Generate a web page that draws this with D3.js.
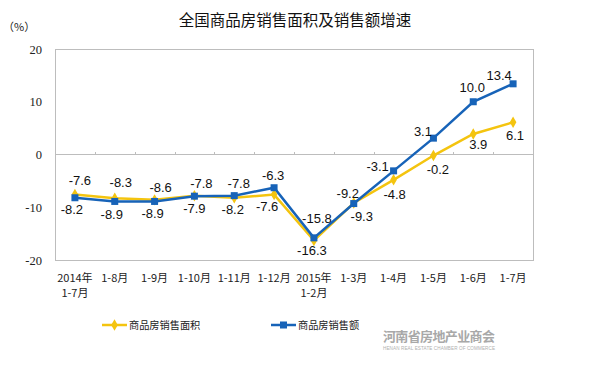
<!DOCTYPE html>
<html><head><meta charset="utf-8">
<script src="https://cdn.jsdelivr.net/npm/d3@7"></script>
<style>body{margin:0;background:#fff}svg{display:block}</style>
</head><body>
<svg id="c" width="606" height="376"></svg>
<script>
const categories = [["2014年","1-7月"],["1-8月"],["1-9月"],["1-10月"],["1-11月"],["1-12月"],["2015年","1-2月"],["1-3月"],["1-4月"],["1-5月"],["1-6月"],["1-7月"]];
const areaValues = [-7.6,-8.3,-8.6,-7.8,-8.2,-7.6,-16.3,-9.2,-4.8,-0.2,3.9,6.1];
const salesValues = [-8.2,-8.9,-8.9,-7.9,-7.8,-6.3,-15.8,-9.3,-3.1,3.1,10.0,13.4];
const yTicks = [20,10,0,-10,-20];
const seriesNames = ["商品房销售面积","商品房销售额"];
const titleText = "全国商品房销售面积及销售额增速";
const unitText = "（%）";
// label placement (dx, dy) relative to point
const areaLabelOff = [[5,-14],[6,-16],[6,-13],[7,-12],[-1.5,12],[-7,12],[-2,10],[-6,-10],[1,14],[4.5,14],[5,10],[2,12.5]];
const salesLabelOff = [[-3,12],[-3,12.4],[-2,11.4],[0,12],[4.5,-12],[-1,-12],[3,-20],[8,13],[-16,-5],[-10.5,-7],[-1,-14],[-14,-8]];

const hy = f => v => f(v).replace("\u2212","-");
const svg = d3.select("#c");
const L=55, R=533, T=49, B=260;
const x = d3.scaleBand().domain(d3.range(categories.length)).range([L,R]);
const y = d3.scaleLinear().domain([-20,20]).range([B,T]);
const cx = i => x(i)+x.bandwidth()/2;
const yellow="#f4c40f", blue="#1763b8";

svg.append("text").attr("x",295).attr("y",26).attr("text-anchor","middle")
  .attr("font-family","Noto Sans CJK SC").attr("font-size",15.5).attr("fill","#111").text(titleText);
svg.append("text").attr("x",3).attr("y",31).attr("font-family","Noto Sans CJK SC")
  .attr("font-size",11).attr("fill","#222").text(unitText);

// frame
svg.append("rect").attr("x",L).attr("y",T).attr("width",R-L).attr("height",B-T)
  .attr("fill","none").attr("stroke","#bdbdbd").attr("stroke-width",1).attr("shape-rendering","crispEdges");
// zero line with ticks
const ax = svg.append("g").attr("transform",`translate(0,${y(0)})`)
  .call(d3.axisTop(d3.scaleLinear().domain([0,categories.length]).range([L,R]))
    .tickValues(d3.range(1,categories.length)).tickSize(3).tickFormat(""));
ax.select(".domain").attr("stroke","#bdbdbd").attr("d",`M${L},0H${R}`);
ax.selectAll(".tick line").attr("stroke","#bdbdbd");
ax.attr("shape-rendering","crispEdges");

// y labels
const ya = svg.append("g").attr("transform",`translate(${L},0)`)
  .call(d3.axisLeft(y).tickValues(yTicks).tickSize(0).tickPadding(13).tickFormat(hy(d3.format("d"))));
ya.select(".domain").remove();
ya.selectAll("text").attr("font-family","Liberation Serif").attr("font-size",12.5).attr("fill","#222");

// x labels
categories.forEach((c,i)=>{
  c.forEach((t,j)=>{
    svg.append("text").attr("x",cx(i)).attr("y",282+j*15).attr("text-anchor","middle")
      .attr("font-family","Noto Sans CJK SC").attr("font-size",11).attr("fill","#222").text(t);
  });
});

const line = d3.line().x((d,i)=>cx(i)).y(d=>y(d));
svg.append("path").datum(areaValues).attr("d",line).attr("fill","none").attr("stroke",yellow).attr("stroke-width",2.5);
svg.append("path").datum(salesValues).attr("d",line).attr("fill","none").attr("stroke",blue).attr("stroke-width",2.5);
const diamond = d3.symbol().type(d3.symbolDiamond).size(38);
svg.selectAll(".ym").data(areaValues).join("path").attr("d",diamond)
  .attr("transform",(d,i)=>`translate(${cx(i)},${y(d)})`).attr("fill",yellow);
svg.selectAll(".bm").data(salesValues).join("rect")
  .attr("x",(d,i)=>cx(i)-3.5).attr("y",d=>y(d)-3.5).attr("width",7).attr("height",7).attr("fill",blue);

const lf = hy(d3.format(".1f"));
function labels(vals, offs){
  vals.forEach((v,i)=>{
    svg.append("text").attr("x",cx(i)+offs[i][0]).attr("y",y(v)+offs[i][1]).attr("dy","0.36em")
      .attr("text-anchor","middle").attr("font-family","Liberation Sans").attr("font-size",13)
      .attr("fill","#111").text(lf(v));
  });
}
labels(areaValues, areaLabelOff);
labels(salesValues, salesLabelOff);

// legend
const lg = [[102,yellow,"d"],[271,blue,"s"]];
lg.forEach((l,k)=>{
  const g = svg.append("g");
  g.append("line").attr("x1",l[0]).attr("x2",l[0]+25).attr("y1",325).attr("y2",325).attr("stroke",l[1]).attr("stroke-width",2.5);
  if(l[2]==="d") g.append("path").attr("d",diamond).attr("transform",`translate(${l[0]+12.5},325)`).attr("fill",l[1]);
  else g.append("rect").attr("x",l[0]+9).attr("y",321.5).attr("width",7).attr("height",7).attr("fill",l[1]);
  g.append("text").attr("x",l[0]+27).attr("y",329).attr("font-family","Noto Sans CJK SC").attr("font-size",10.2)
    .attr("fill","#222").text(seriesNames[k]);
});

// watermark
svg.append("text").attr("x",383).attr("y",341).attr("font-family","Noto Sans CJK SC").attr("font-weight","bold")
  .attr("font-size",13).attr("textLength",112).attr("fill","#a8a8a8").text("河南省房地产业商会");
svg.append("text").attr("x",383).attr("y",350).attr("font-family","Liberation Sans")
  .attr("font-size",4.6).attr("textLength",112).attr("fill","#b0b0b0").text("HENAN REAL ESTATE CHAMBER OF COMMERCE");
</script>
</body></html>
